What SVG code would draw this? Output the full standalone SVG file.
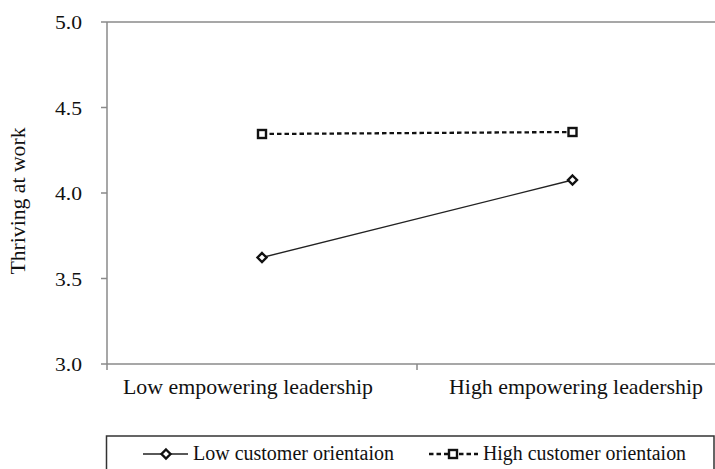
<svg xmlns="http://www.w3.org/2000/svg" width="715" height="469" viewBox="0 0 715 469">
<style>
text{font-family:"Liberation Serif","Times New Roman",serif;fill:#111}
.tick{font-size:19px;text-anchor:end}
.cat{font-size:21.5px}
.leg{font-size:20px}
.axis{stroke:#8a8a8a;stroke-width:1.5;fill:none}
.solid{stroke:#222;stroke-width:1.4;fill:none}
.dash{stroke:#111;stroke-width:2.3;stroke-dasharray:4.5 3;fill:none}
.dia{fill:#fff;stroke:#111;stroke-width:2.4}
.sq{fill:#fff;stroke:#111;stroke-width:2.4}
</style>
<defs>
<path id="diamond" d="M0,-4.5 L4.5,0 L0,4.5 L-4.5,0 Z"/>
<rect id="square" x="-4" y="-4" width="8" height="8"/>
</defs>
<rect width="715" height="469" fill="#fff"/>
<g id="axes">
<path class="axis" d="M107,22 V370 M107,22 H715 M107,364 H715 M101,22 H107 M101,107.5 H107 M101,193 H107 M101,278.5 H107 M101,364 H107 M417,364 V370"/>
<text class="tick" x="82" y="29" textLength="27" lengthAdjust="spacingAndGlyphs">5.0</text>
<text class="tick" x="82" y="114.5" textLength="27" lengthAdjust="spacingAndGlyphs">4.5</text>
<text class="tick" x="82" y="200" textLength="27" lengthAdjust="spacingAndGlyphs">4.0</text>
<text class="tick" x="82" y="285.5" textLength="27" lengthAdjust="spacingAndGlyphs">3.5</text>
<text class="tick" x="82" y="371" textLength="27" lengthAdjust="spacingAndGlyphs">3.0</text>
<text class="cat" x="123" y="394" textLength="250" lengthAdjust="spacingAndGlyphs">Low empowering leadership</text>
<text class="cat" x="449" y="394" textLength="254" lengthAdjust="spacingAndGlyphs">High empowering leadership</text>
<text font-size="21" transform="translate(25,201) rotate(-90)" text-anchor="middle" textLength="147" lengthAdjust="spacingAndGlyphs">Thriving at work</text>
</g>
<g id="connectors">
<line class="solid" x1="262" y1="257.5" x2="572.5" y2="180"/>
<line class="dash" x1="262" y1="134" x2="572.5" y2="132"/>
</g>
<g id="low-series">
<use href="#diamond" class="dia" x="262" y="257.5"/>
<use href="#diamond" class="dia" x="572.5" y="180"/>
</g>
<g id="high-series">
<use href="#square" class="sq" x="262" y="134"/>
<use href="#square" class="sq" x="572.5" y="132"/>
</g>
<g id="legend">
<rect x="106.5" y="436" width="607.5" height="45" fill="none" stroke="#333" stroke-width="1.5"/>
<line class="solid" x1="143" y1="454" x2="188" y2="454"/>
<use href="#diamond" class="dia" x="166" y="454"/>
<text class="leg" x="193" y="460" textLength="201" lengthAdjust="spacingAndGlyphs">Low customer orientaion</text>
<line class="dash" x1="429" y1="454" x2="478" y2="454"/>
<use href="#square" class="sq" x="453" y="454"/>
<text class="leg" x="483" y="460" textLength="203" lengthAdjust="spacingAndGlyphs">High customer orientaion</text>
</g>
</svg>
